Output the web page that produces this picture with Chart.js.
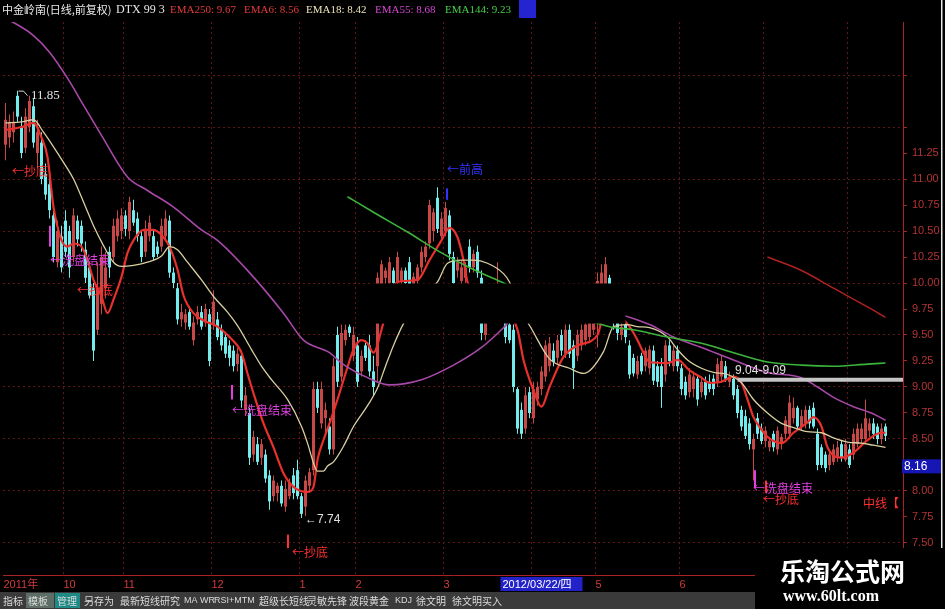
<!DOCTYPE html>
<html><head><meta charset="utf-8">
<script src="https://cdn.jsdelivr.net/npm/chart.js@4.4.1/dist/chart.umd.min.js"></script>
<style>html,body{margin:0;padding:0;background:#000;overflow:hidden}canvas{display:block}</style>
</head><body>
<canvas id="c" width="945" height="609"></canvas>
<script>
// ---------------- data ----------------
const stockTitle = '中金岭南(日线,前复权)';
const monthStarts = [0,15,30,52,74,88,110,132,148,169,190,211];
const monthLabels = ['2011年','10','11','12','1','2','3','4','5','6','7','8'];
const yTickValues = [7.5,7.75,8,8.25,8.5,8.75,9,9.25,9.5,9.75,10,10.25,10.5,10.75,11,11.25,11.5,12];

const openV = [11.33,11.40,11.45,11.80,11.50,11.30,11.50,11.70,11.25,11.35,
11.05,10.95,10.65,10.20,10.45,10.60,10.50,10.25,10.60,10.55,
10.32,10.15,9.95,9.55,9.80,9.95,10.30,10.25,10.45,10.50,
10.65,10.50,10.70,10.62,10.45,10.30,10.45,10.45,10.35,10.35,
10.45,10.60,10.10,9.95,9.65,9.62,9.72,9.45,9.65,9.72,
9.62,9.70,9.60,9.65,9.55,9.48,9.40,9.35,9.22,9.30,
8.78,8.75,8.35,8.45,8.32,8.35,8.15,7.95,7.98,8.05,
7.85,7.95,8.15,8.20,7.95,7.85,8.05,8.20,8.98,8.65,
8.70,8.62,8.40,9.50,9.10,9.45,9.58,9.30,9.40,9.15,
9.40,9.40,9.15,9.20,9.95,10.05,10.00,10.12,10.00,10.02,
10.12,10.20,9.98,10.02,10.15,10.25,10.38,10.50,10.82,10.45,
10.50,10.65,10.25,10.12,10.02,10.05,10.35,10.15,10.30,10.05,
9.50,9.80,9.72,9.85,9.95,9.80,9.60,9.55,8.98,8.78,
8.60,8.95,8.70,8.88,8.98,9.10,9.20,9.35,9.28,9.50,
9.32,9.55,9.40,9.30,9.40,9.45,9.48,9.55,9.62,9.90,
9.95,10.05,9.75,9.62,9.50,9.60,9.40,9.28,9.12,9.30,
9.20,9.18,9.35,9.20,9.20,9.12,9.40,9.20,9.35,9.18,
9.05,8.95,8.98,9.08,8.95,9.05,9.05,9.08,9.05,9.10,
9.20,9.05,9.08,8.98,8.78,8.72,8.65,8.40,8.70,8.60,
8.48,8.42,8.55,8.40,8.45,8.55,8.55,8.70,8.80,8.62,
8.65,8.78,8.80,8.55,8.42,8.35,8.25,8.28,8.32,8.45,
8.30,8.40,8.35,8.45,8.50,8.50,8.58,8.65,8.62,8.50,
8.62];
const highV = [11.73,11.62,11.65,11.85,11.60,11.68,11.80,11.78,11.57,11.45,
11.15,11.10,10.70,10.60,10.55,10.70,10.55,10.72,10.65,10.60,
10.40,10.20,10.00,10.20,10.35,10.30,10.35,10.62,10.70,10.72,
10.70,10.83,10.80,10.68,10.50,10.60,10.65,10.50,10.40,10.62,
10.70,10.65,10.15,10.00,9.80,9.75,9.78,9.68,9.78,9.78,
9.80,9.75,9.93,9.72,9.60,9.52,9.45,9.40,9.38,9.35,
9.00,8.80,8.58,8.52,8.50,8.40,8.20,8.15,8.08,8.10,
8.10,8.12,8.22,8.30,7.98,8.15,8.22,9.05,9.05,9.05,
8.85,8.70,9.28,9.58,9.60,9.60,9.60,9.58,9.48,9.35,
9.45,9.50,9.30,10.10,10.22,10.15,10.25,10.15,10.30,10.15,
10.15,10.25,10.10,10.18,10.35,10.40,10.80,10.72,10.92,10.68,
10.78,10.70,10.30,10.25,10.22,10.20,10.42,10.32,10.36,10.12,
9.85,9.95,9.90,10.20,9.98,9.85,9.65,9.60,9.00,8.85,
9.00,9.00,9.05,9.05,9.20,9.45,9.48,9.42,9.50,9.55,
9.60,9.60,9.45,9.55,9.60,9.70,9.80,9.90,10.10,10.18,
10.25,10.08,9.85,9.65,9.62,9.62,9.45,9.32,9.30,9.33,
9.38,9.40,9.40,9.25,9.28,9.45,9.45,9.40,9.40,9.22,
9.10,9.18,9.15,9.12,9.10,9.10,9.12,9.12,9.28,9.30,
9.25,9.15,9.12,9.02,8.82,8.78,8.70,8.55,8.75,8.65,
8.62,8.52,8.58,8.62,8.55,8.72,8.92,8.90,8.82,8.78,
8.82,8.82,8.85,8.60,8.45,8.38,8.40,8.45,8.48,8.48,
8.50,8.45,8.60,8.65,8.65,8.88,8.70,8.70,8.65,8.65,
8.65];
const lowV = [11.18,11.30,11.35,11.55,11.20,11.25,11.45,11.30,11.10,10.95,
10.80,10.62,10.20,10.15,10.10,10.25,10.05,10.20,10.35,10.30,
10.00,9.85,9.25,9.50,9.70,9.85,10.05,10.20,10.40,10.42,
10.45,10.42,10.55,10.40,10.20,10.25,10.40,10.22,10.25,10.30,
10.40,10.05,9.95,9.60,9.58,9.55,9.55,9.40,9.60,9.55,
9.58,9.20,9.55,9.45,9.35,9.28,9.20,9.15,9.15,8.80,
8.72,8.25,8.28,8.25,8.25,8.08,7.82,7.90,7.90,7.85,
7.80,7.92,7.92,7.92,7.74,7.76,8.00,8.15,8.75,8.60,
8.55,8.35,8.35,9.00,9.05,9.40,9.48,9.25,9.00,9.10,
9.25,9.10,8.92,9.05,9.85,9.90,9.90,9.92,9.95,9.95,
9.90,9.90,9.90,9.98,10.10,10.20,10.33,10.40,10.48,10.40,
10.45,10.22,9.95,10.05,9.95,10.00,10.10,10.10,10.05,9.45,
9.45,9.65,9.65,9.75,9.70,9.42,9.42,8.95,8.55,8.50,
8.55,8.70,8.65,8.82,8.92,9.05,9.15,9.20,9.22,9.30,
9.28,9.28,8.98,9.25,9.35,9.40,9.42,9.50,9.38,9.80,
9.85,9.70,9.55,9.45,9.45,9.42,9.08,9.10,9.08,9.12,
9.15,9.12,9.02,9.00,8.80,9.05,9.20,9.15,9.15,8.92,
8.88,8.90,8.90,8.82,8.90,8.88,8.95,8.92,9.00,9.05,
9.05,9.00,8.88,8.70,8.58,8.50,8.40,8.10,8.50,8.45,
8.42,8.38,8.38,8.35,8.40,8.50,8.50,8.65,8.58,8.58,
8.60,8.60,8.60,8.20,8.22,8.18,8.20,8.25,8.28,8.28,
8.28,8.22,8.30,8.42,8.45,8.45,8.52,8.50,8.45,8.45,
8.48];
const closeV = [11.57,11.55,11.55,11.60,11.25,11.60,11.75,11.35,11.45,11.00,
10.85,10.70,10.25,10.50,10.15,10.30,10.15,10.65,10.42,10.38,
10.05,9.88,9.35,9.95,10.25,10.15,10.15,10.55,10.62,10.65,
10.52,10.78,10.58,10.45,10.25,10.52,10.58,10.25,10.28,10.55,
10.62,10.10,10.00,9.65,9.72,9.70,9.58,9.62,9.72,9.58,
9.75,9.25,9.82,9.48,9.40,9.32,9.28,9.20,9.32,8.87,
8.92,8.32,8.52,8.28,8.45,8.12,7.90,8.10,8.05,7.88,
8.02,8.08,7.98,7.95,7.78,8.10,8.18,8.98,8.80,8.98,
8.78,8.40,9.20,9.05,9.52,9.55,9.52,9.50,9.05,9.30,
9.28,9.15,9.00,10.05,10.18,10.12,10.20,10.00,10.25,10.12,
10.00,9.98,10.06,10.15,10.30,10.35,10.75,10.68,10.52,10.62,
10.72,10.28,10.00,10.20,10.15,10.15,10.15,10.28,10.10,9.52,
9.80,9.75,9.85,9.95,9.75,9.48,9.45,9.00,8.60,8.55,
8.92,8.75,8.98,9.00,9.15,9.40,9.42,9.24,9.45,9.35,
9.55,9.32,9.18,9.50,9.55,9.60,9.65,9.80,10.02,10.10,
10.18,9.75,9.62,9.52,9.58,9.48,9.12,9.13,9.25,9.15,
9.35,9.36,9.06,9.05,9.00,9.40,9.25,9.35,9.20,8.98,
8.92,9.12,9.10,8.88,9.05,8.92,8.98,8.98,9.22,9.25,
9.08,9.10,8.92,8.75,8.62,8.53,8.45,8.50,8.55,8.48,
8.58,8.48,8.42,8.58,8.52,8.68,8.85,8.80,8.62,8.72,
8.78,8.65,8.62,8.25,8.25,8.22,8.35,8.40,8.42,8.32,
8.45,8.25,8.55,8.60,8.60,8.70,8.65,8.55,8.50,8.60,
8.53];

// moving-average lines, sampled along the picture as [day index, price]
const ema6Pts = [[0,11.47],[4,11.50],[7,11.54],[9,11.40],[10.5,11.21],[12,10.73],[13,10.54],[14,10.41],[15.5,10.35],[17,10.38],[19,10.35],[20.5,10.22],[22,10.03],[24,9.87],[25.5,9.71],[27,9.84],[29,10.06],[30.5,10.29],[32,10.41],[34.5,10.51],[37,10.51],[39.5,10.44],[41,10.35],[43,10.13],[44.5,9.88],[47,9.71],[49.5,9.64],[53,9.58],[56,9.48],[59,9.33],[60.5,9.13],[62,8.94],[64.5,8.65],[67,8.42],[69.5,8.17],[72,8.04],[75.5,7.99],[77,8.04],[78,8.30],[79.5,8.49],[81,8.65],[83,8.88],[85.5,9.19],[87,9.36],[89,9.45],[90.5,9.42],[92,9.33],[94,9.55],[96,9.85],[98,10.01],[103,10.03],[106,10.22],[109,10.41],[111,10.53],[113,10.44],[114.5,10.22],[115.5,10.01],[120,9.80],[125,9.75],[128,9.55],[129.5,9.26],[132,8.97],[134,8.81],[136,9.00],[139.5,9.29],[143,9.40],[148,9.50],[150,9.75],[153,9.70],[156,9.58],[158,9.45],[159.5,9.33],[161,9.24],[165.5,9.23],[168,9.26],[171,9.16],[174,9.09],[176,9.04],[179,9.05],[182,9.10],[184,9.04],[185.5,8.88],[187,8.71],[189,8.59],[190.5,8.52],[194,8.46],[197,8.56],[200.5,8.66],[202,8.71],[204,8.62],[205.5,8.42],[209,8.32],[212,8.37],[215.5,8.49],[219,8.56],[220,8.56]];
const ema18Pts = [[0,11.54],[4,11.55],[7,11.57],[9.5,11.45],[12,11.31],[14.5,11.16],[17,11.00],[19.5,10.78],[22,10.55],[24.5,10.36],[27,10.20],[29,10.16],[32,10.17],[35.5,10.20],[39,10.26],[41,10.35],[43,10.32],[45.5,10.20],[49,10.03],[52,9.87],[55.5,9.72],[58,9.59],[61.5,9.36],[64,9.20],[66.5,9.07],[70.5,8.88],[74,8.62],[75.5,8.46],[77,8.27],[78,8.19],[79.5,8.19],[80.5,8.24],[82,8.28],[84.5,8.43],[87,8.62],[90.5,8.82],[93,8.99],[95,9.20],[97,9.40],[99.5,9.61],[104,9.85],[108,10.01],[110.5,10.19],[114,10.22],[117,10.22],[120.5,10.19],[124.5,10.09],[126,10.01],[128,9.80],[131.5,9.56],[136,9.27],[141,9.18],[144.5,9.13],[149.5,9.34],[152,9.58],[155.5,9.60],[158,9.58],[161,9.57],[165.5,9.48],[168,9.36],[170.5,9.26],[174,9.18],[177,9.14],[180.5,9.12],[184,9.04],[187,8.88],[190.5,8.75],[194,8.65],[197,8.61],[200.5,8.57],[204,8.56],[207,8.51],[210.5,8.47],[214,8.46],[217,8.44],[220,8.42]];
const ema55Pts = [[0,12.55],[7,12.38],[11,12.22],[15.5,11.97],[19.5,11.71],[24,11.42],[30.5,11.02],[35.5,10.89],[42,10.73],[49,10.51],[53,10.41],[61,10.10],[69.5,9.71],[74.5,9.45],[81,9.33],[84,9.23],[90.5,9.09],[96,9.02],[104,9.07],[112,9.21],[119,9.38],[124.5,9.57],[126,9.63],[135,9.78],[148,9.75],[161,9.60],[167,9.48],[174,9.38],[182,9.26],[190.5,9.14],[199,9.09],[203,9.00],[207,8.90],[212,8.81],[217,8.74],[220,8.68]];
const ema144Pts = [[85.5,10.83],[92,10.68],[100.5,10.49],[109,10.29],[117,10.13],[124,10.01],[135,9.80],[151,9.58],[157,9.55],[165.5,9.48],[174,9.42],[182,9.33],[190.5,9.24],[199,9.21],[207,9.20],[215.5,9.22],[220,9.23]];
const ema250Pts = [[190.5,10.25],[199,10.12],[207,9.95],[215.5,9.77],[220,9.67]];
const resistPts = [[183,9.07],[224.375,9.07]];
const resistLabel = '9.04-9.09';
const lastPriceLabel = 8.16;
const cursorDate = {i:125, text:'2012/03/22/四'};

// text marks on the chart: [day index, price, text, kind]
const notes = [
  [6.4,11.80,'11.85','w'],[1.6,11.07,'←抄底','r'],[11.1,10.22,'←洗盘结束','m'],[17.9,9.93,'←抄底','r'],
  [56.6,8.77,'←洗盘结束','m'],[74.9,7.72,'←7.74','w'],[71.6,7.41,'←抄底','r'],[110.4,11.09,'←前高','b'],
  [182.4,9.16,resistLabel,'w'],[186.9,8.02,'←洗盘结束','m'],[189.4,7.92,'←抄底','r'],[214.4,7.88,'中线【','r']
];
// short signal sticks: [day index, from price, to price, kind]
const sticks = [[11.1,10.55,10.35,'m'],[56.6,9.02,8.88,'m'],[70.6,7.58,7.45,'r'],[110.4,10.91,10.80,'b'],[187.4,8.20,8.03,'m'],[190.1,8.10,7.98,'r']];
// the black band that hides part of the picture: [from day, to day, low price, high price]
const hiddenBand = [91.8,155.0,9.61,10.0];

// ---------------- chart ----------------
const UP='#c84848', DOWN='#72ecec';
const C = {ema250:'#b02222', ema6:'#e8302c', ema18:'#d8d0a0', ema55:'#a848a8', ema144:'#3cb43c'};
const KIND = {w:'#e0e0e0', r:'#ff3030', m:'#e040e0', b:'#3434ff'};
const CJK = '"Noto Sans CJK SC"';
Chart.defaults.font.family = "'Liberation Sans','Noto Sans CJK SC',sans-serif";
const isUp = i => closeV[i] >= openV[i];
const xy = pts => pts.map(p => ({x:p[0], y:p[1]}));
const last = a => a[a.length-1][1];
const candleColor = ctx => isUp(ctx.dataIndex) ? UP : DOWN;

const wickData = closeV.map((c,i) => ({x:i, y:[lowV[i], highV[i]]}));
const bodyData = closeV.map((c,i) => ({x:i, y:[Math.min(openV[i],c), Math.max(openV[i],c)]}));
const lineDS = (pts, color, w) => ({type:'line', data:xy(pts), borderColor:color, borderWidth:w, pointRadius:0, cubicInterpolationMode:'monotone', fill:false, order:1});

const deco = {
  id:'deco',
  beforeDraw(chart){ const c=chart.ctx; c.save(); c.fillStyle='#000'; c.fillRect(0,0,chart.width,chart.height); c.restore(); },
  afterDatasetsDraw(chart){
    const {ctx, scales:{x,y}} = chart;
    ctx.save();
    const bx0=x.getPixelForValue(hiddenBand[0]), bx1=x.getPixelForValue(hiddenBand[1]);
    const byTop=y.getPixelForValue(hiddenBand[3])+0.5, byBot=y.getPixelForValue(hiddenBand[2]);
    ctx.fillStyle='#000'; ctx.fillRect(bx0, byTop, bx1-bx0, byBot-byTop);
    sticks.forEach(s => {
      ctx.fillStyle = KIND[s[3]];
      const px=Math.round(x.getPixelForValue(s[0])), p1=y.getPixelForValue(s[1]), p2=y.getPixelForValue(s[2]);
      ctx.fillRect(px-1, p1, 2, p2-p1);
    });
    const hx=x.getPixelForValue(3), hy=y.getPixelForValue(11.85);
    ctx.strokeStyle='#d8d8d8'; ctx.lineWidth=1; ctx.beginPath();
    ctx.moveTo(hx+1,hy+0.5); ctx.lineTo(hx+6,hy+0.5); ctx.lineTo(hx+10,hy+5); ctx.stroke();
    ctx.textBaseline='middle'; ctx.textAlign='left';
    notes.forEach(n => {
      ctx.fillStyle = KIND[n[3]];
      ctx.font = n[2]==='11.85' ? '13px "Liberation Serif"' : (/[\u4e00-\u9fff]/.test(n[2]) ? '12px '+CJK : '12px "Liberation Sans"');
      ctx.fillText(n[2], x.getPixelForValue(n[0]), y.getPixelForValue(n[1]));
    });
    ctx.restore();
  },
  afterDraw(chart){
    const {ctx, scales:{x,y}} = chart;
    ctx.save();
    ctx.fillStyle='#e6e6e6'; ctx.fillRect(941,0,1.5,548);
    ctx.textBaseline='middle'; ctx.textAlign='left';
    const lg = [
      [stockTitle,'#e8e8e8','11px '+CJK,2],
      ['DTX 99 3','#e8e8e8','12px "Liberation Serif"',116],
      ['EMA250: '+last(ema250Pts).toFixed(2),'#e23a3a','11px "Liberation Serif"',170],
      ['EMA6: '+last(ema6Pts).toFixed(2),'#e23a3a','11px "Liberation Serif"',244],
      ['EMA18: '+last(ema18Pts).toFixed(2),'#ece4b8','11px "Liberation Serif"',306],
      ['EMA55: '+last(ema55Pts).toFixed(2),'#d446d4','11px "Liberation Serif"',375],
      ['EMA144: '+last(ema144Pts).toFixed(2),'#46d046','11px "Liberation Serif"',445]
    ];
    lg.forEach(p => { ctx.fillStyle=p[1]; ctx.font=p[2]; ctx.fillText(p[0], p[3], 10); });
    ctx.fillStyle='#2424d0'; ctx.fillRect(519,0,17,18);
    const py = y.getPixelForValue(lastPriceLabel);
    ctx.fillStyle='#1616b4'; ctx.fillRect(902,py-15,39,14);
    ctx.fillStyle='#ffffff'; ctx.font='12px "Liberation Sans"'; ctx.fillText(lastPriceLabel.toFixed(2),904,py-8);
    const dx = x.getPixelForValue(cursorDate.i)-5;
    ctx.fillStyle='#2222c8'; ctx.fillRect(dx,577,82,14);
    ctx.fillStyle='#ffffff'; ctx.font='11px "Liberation Sans",'+CJK; ctx.fillText(cursorDate.text,dx+2,584.5);
    // toolbar
    ctx.fillStyle='#3a3a3a'; ctx.fillRect(0,592,755,17);
    ctx.fillStyle='#5e6e66'; ctx.fillRect(26,593,28,15);
    ctx.fillStyle='#1d8a86'; ctx.fillRect(55,593,25,15);
    const tb = [['指标',3],['模板',28],['管理',57],['另存为',84],['最新短线研究',120],['MA',184],['WR',200],['RSI+MTM',214],['超级长短线',259],['灵敏先锋',307],['波段黄金',349],['KDJ',395],['徐文明',416],['徐文明买入',452]];
    ctx.fillStyle='#dcdcdc';
    tb.forEach(t => { ctx.font = /[\u4e00-\u9fff]/.test(t[0]) ? '10px '+CJK : '9px "Liberation Sans"'; ctx.fillText(t[0], t[1], 601); });
    // watermark
    ctx.fillStyle='#000'; ctx.fillRect(755,548,190,61);
    ctx.fillStyle='#ffffff'; ctx.font='bold 25px '+CJK; ctx.fillText('乐淘公式网',780,571);
    ctx.font='bold 16px "Liberation Serif"'; ctx.fillText('www.60lt.com',783,597);
    ctx.restore();
  }
};

const isHalf = v => Math.abs(v*2 - Math.round(v*2)) < 1e-6;
new Chart(document.getElementById('c'), {
  data: {
    datasets: [
      {type:'bar', data:wickData, barThickness:1, maxBarThickness:1, grouped:false, backgroundColor:candleColor, borderWidth:0, inflateAmount:0, order:10},
      {type:'bar', data:bodyData, barThickness:3, maxBarThickness:3, grouped:false, backgroundColor:candleColor, borderWidth:0, inflateAmount:0, minBarLength:1, order:9},
      lineDS(ema250Pts, C.ema250, 1.5),
      lineDS(ema144Pts, C.ema144, 1.6),
      lineDS(ema55Pts, C.ema55, 1.6),
      lineDS(ema18Pts, C.ema18, 1.3),
      lineDS(ema6Pts, C.ema6, 2.2),
      {type:'line', data:xy(resistPts), borderColor:'#c4c4c4', borderWidth:4, pointRadius:0, order:0}
    ]
  },
  options: {
    responsive:false, animation:false, devicePixelRatio:1,
    layout:{padding:{left:3, top:22, right:0, bottom:0}},
    plugins:{legend:{display:false}, tooltip:{enabled:false}},
    scales:{
      x:{type:'linear', min:-0.625, max:224.375, position:'bottom', offset:false,
        afterBuildTicks: s => { s.ticks = monthStarts.map(v => ({value:v-0.5})); },
        afterFit: s => { s.height = 34; },
        ticks:{autoSkip:false, maxRotation:0, align:'start', padding:3, color:'#d23c3c', font:{size:11}, callback:(v,i) => monthLabels[i]},
        grid:{offset:false, color: ctx => ctx.index===0 ? 'rgba(0,0,0,0)' : '#621616', lineWidth:1, drawTicks:false},
        border:{display:true, color:'#a82222', width:1, dash:[2,3]}
      },
      y:{type:'linear', position:'right', min:7.192, max:12.51,
        afterBuildTicks: s => { s.ticks = yTickValues.map(v => ({value:v})); },
        afterFit: s => { s.width = 42; },
        ticks:{color:'#b43434', font:{size:11}, padding:5, crossAlign:'near', callback: v => v <= 11.26 ? v.toFixed(2) : ''},
        grid:{color: ctx => (ctx.tick && isHalf(ctx.tick.value)) ? '#621616' : 'rgba(0,0,0,0)', lineWidth:1, tickLength:4, tickColor:'#a82222'},
        border:{display:true, color:'#a82222', width:1, dash:[2,3]}
      }
    }
  },
  plugins:[deco]
});
</script>
</body></html>
